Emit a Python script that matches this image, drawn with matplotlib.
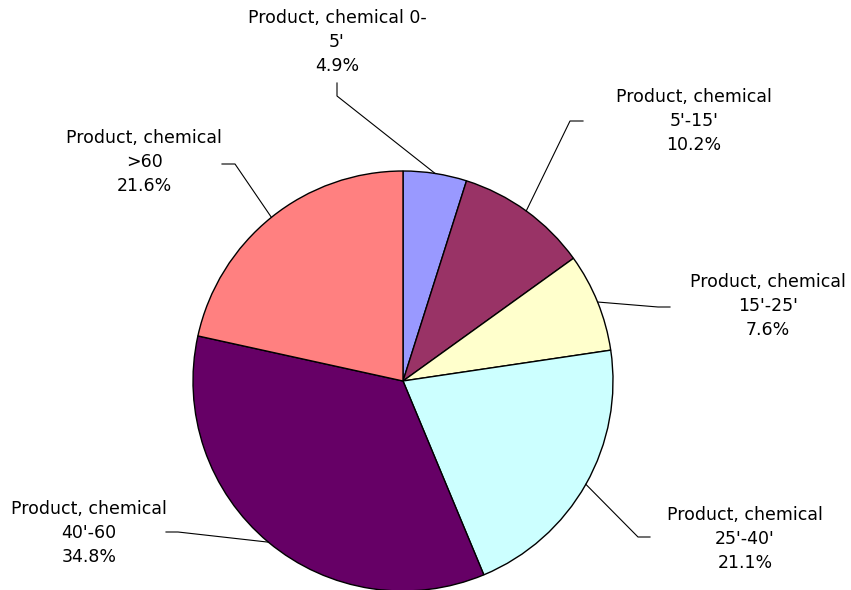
import matplotlib
matplotlib.use('Agg')
import matplotlib.pyplot as plt
import numpy as np

labels = ["Product, chemical 0-\n5'", "Product, chemical\n5'-15'", "Product, chemical\n15'-25'",
          "Product, chemical\n25'-40'", "Product, chemical\n40'-60", "Product, chemical\n>60"]
shares = [4.9, 10.2, 7.6, 21.1, 34.8, 21.6]
colors = ['#9999FF', '#993366', '#FFFFCC', '#CCFFFF', '#660066', '#FF8080']

W, H = 851, 590
fig = plt.figure(figsize=(W / 100, H / 100), dpi=100)
ax = fig.add_axes([0, 0, 1, 1])

cx, cy, r = 403, H - 381, 210
wedges, _ = ax.pie(shares, colors=colors, startangle=90, counterclock=False,
                   center=(cx, cy), radius=r, frame=True,
                   wedgeprops=dict(edgecolor='black', linewidth=1.0))
ax.set_xlim(0, W)
ax.set_ylim(0, H)
ax.set_aspect('equal')
ax.axis('off')

# text centre (px from top-left), leader start, elbow
text_pos = [(337, 42), (694, 121), (768, 306), (745, 539), (89, 533), (144, 162)]
leader = [[(337, 83), (337, 96)],
          [(583, 121), (570, 121)],
          [(670, 307), (658, 307)],
          [(650, 537), (638, 537)],
          [(166, 532), (178, 532)],
          [(222, 164), (235, 164)]]

for w, lab, s, tp, ld in zip(wedges, labels, shares, text_pos, leader):
    mid = np.deg2rad((w.theta1 + w.theta2) / 2)
    px = cx + r * np.cos(mid)
    py = cy + r * np.sin(mid)
    xs = [p[0] for p in ld] + [px]
    ys = [H - p[1] for p in ld] + [py]
    ax.plot(xs, ys, color='black', linewidth=0.8)
    ax.text(tp[0], H - tp[1], f"{lab}\n{s:.1f}%", ha='center', va='center',
            fontsize=12.5, linespacing=1.45, family='DejaVu Sans', color='black')

fig.savefig('out.png', dpi=100)
